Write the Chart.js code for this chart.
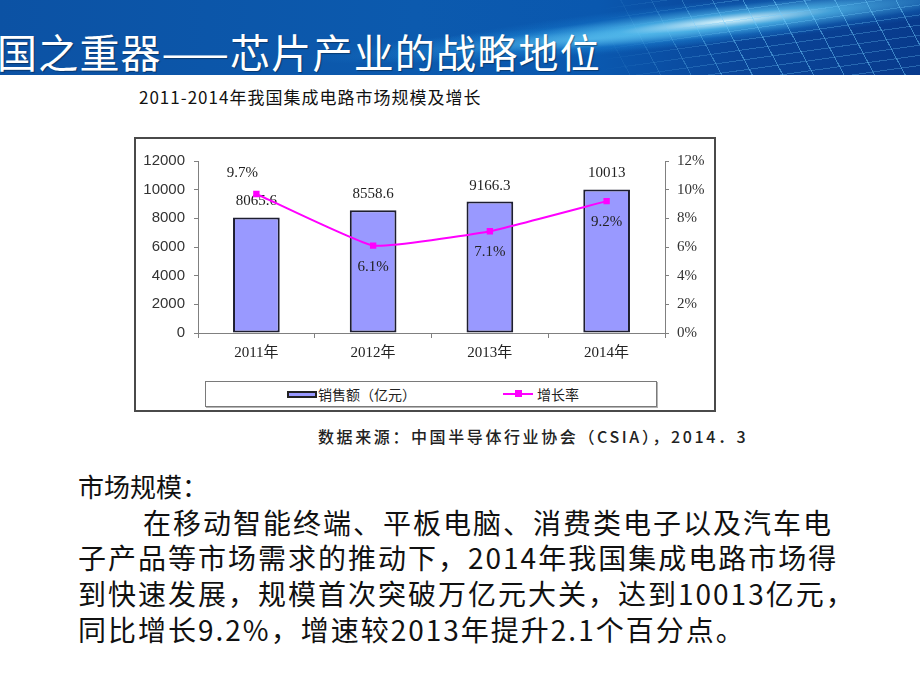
<!DOCTYPE html>
<html>
<head>
<meta charset="utf-8">
<script src="https://cdn.jsdelivr.net/npm/chart.js@4.4.0/dist/chart.umd.min.js"></script>
<style>
body { margin: 0; width: 920px; height: 690px; position: relative; overflow: hidden; background: #fff; font-family: "Noto Sans CJK SC", sans-serif; color: #111; }
#banner { position: absolute; left: 0; top: 0; width: 920px; height: 75px; overflow: hidden;
  background: linear-gradient(to right, #0c52a4 0%, #0c5aae 45%, #0a58af 65%, #0a4599 80%, #083a8c 100%); }
#ray1 { position: absolute; left: 380px; top: 6px; width: 560px; height: 44px; transform: rotate(-6deg);
  background: radial-gradient(ellipse at 62% 50%, rgba(225,250,255,0.95) 0%, rgba(90,200,245,0.7) 22%, rgba(30,140,220,0.25) 50%, rgba(10,90,180,0) 72%); }
#ray2 { position: absolute; left: 300px; top: 26px; width: 520px; height: 30px; transform: rotate(-4deg);
  background: radial-gradient(ellipse at 55% 50%, rgba(120,215,250,0.55) 0%, rgba(40,150,225,0.25) 40%, rgba(10,90,180,0) 70%); }
#grid { position: absolute; left: 600px; top: 0; width: 320px; height: 75px;
  background:
    repeating-linear-gradient(62deg, rgba(0,0,0,0) 0 26px, rgba(110,200,250,0.5) 26px 27px),
    repeating-linear-gradient(-8deg, rgba(0,0,0,0) 0 9px, rgba(110,200,250,0.3) 9px 10px);
  -webkit-mask-image: linear-gradient(to right, rgba(0,0,0,0) 0%, rgba(0,0,0,1) 45%); }
#banner h1 { position: absolute; left: -3px; top: 31px; margin: 0; font-size: 40px; line-height: 40px; font-weight: 400; color: #fff; white-space: nowrap; letter-spacing: 1.2px; text-shadow: 1px 1px 1px rgba(0,0,0,0.35); }
#ctitle { position: absolute; left: 139px; top: 87px; font-size: 17px; line-height: 19px; font-weight: 400; letter-spacing: 1px; color: #111; white-space: nowrap; }
#box { position: absolute; left: 134px; top: 137px; width: 582px; height: 275px; box-sizing: border-box; border: 2px solid #4a4a4a; }
#wrap { position: absolute; left: 136px; top: 139px; width: 578px; height: 231px; }
#legend { position: absolute; left: 205px; top: 381px; width: 452px; height: 26px; box-sizing: border-box; border: 1px solid #7a7a7a; box-shadow: 1px 1px 0 #b5b5b5; }
.lg { position: absolute; font-size: 14px; line-height: 16px; color: #222; white-space: nowrap; }
#swBar { position: absolute; left: 287px; top: 391px; width: 30px; height: 7px; box-sizing: border-box; border: 2px solid #222; background: #9999ff; }
#swLine { position: absolute; left: 503px; top: 393px; width: 30px; height: 2px; background: #ff00ff; }
#swDot { position: absolute; left: 515px; top: 390px; width: 7px; height: 7px; background: #ff00ff; }
#source { position: absolute; left: 318px; top: 427px; font-size: 16px; line-height: 18px; font-weight: 500; letter-spacing: 2.6px; color: #222; white-space: nowrap; }
.para { position: absolute; white-space: nowrap; color: #111; }
.big { font-size: 28px; line-height: 28px; letter-spacing: 2px; }
</style>
</head>
<body>
<div id="banner">
  <div id="ray2"></div>
  <div id="ray1"></div>
  <div id="grid"></div>
  <h1>国之重器——芯片产业的战略地位</h1>
</div>

<div id="ctitle">2011-2014年我国集成电路市场规模及增长</div>
<div id="box"></div>
<div id="wrap"><canvas id="myChart"></canvas></div>

<div id="legend"></div>
<div id="swBar"></div>
<div class="lg" style="left:318px; top:386px;">销售额（亿元）</div>
<div id="swLine"></div>
<div id="swDot"></div>
<div class="lg" style="left:537px; top:386px;">增长率</div>

<div id="source">数据来源：中国半导体行业协会（CSIA），2014．3</div>

<div class="para" style="left:78px; top:473px; font-size:26px; line-height:26px;">市场规模：</div>
<div class="para big" style="left:143px; top:508px;">在移动智能终端、平板电脑、消费类电子以及汽车电</div>
<div class="para big" style="left:78px; top:543px;">子产品等市场需求的推动下，2014年我国集成电路市场得</div>
<div class="para big" style="left:78px; top:579px;">到快速发展，规模首次突破万亿元大关，达到10013亿元，</div>
<div class="para big" style="left:78px; top:615px;">同比增长9.2%，增速较2013年提升2.1个百分点。</div>

<script>
// chart data
var years = ['2011年', '2012年', '2013年', '2014年'];
var sales = [8065.6, 8558.6, 9166.3, 10013];
var growth = [9.7, 6.1, 7.1, 9.2];
var salesTicks = [0, 2000, 4000, 6000, 8000, 10000, 12000];
var growthTicks = [0, 2, 4, 6, 8, 10, 12];
// where each growth label sits relative to its point
var growthLabelSide = ['above', 'below', 'below', 'below'];

var serif = '"Liberation Serif", "Noto Sans CJK SC", serif';

// value labels: bar values after the bars, rates after the line
var valueLabels = {
    id: 'valueLabels',
    afterDatasetDraw: function (chart, args) {
        var ctx = chart.ctx;
        ctx.save();
        ctx.font = '15px ' + serif;
        ctx.fillStyle = '#222';
        ctx.textAlign = 'center';
        ctx.textBaseline = 'middle';
        if (args.index === 0) {
            args.meta.data.forEach(function (bar, i) {
                ctx.fillText(String(sales[i]), bar.x, bar.y - 16);
            });
        } else {
            args.meta.data.forEach(function (pt, i) {
                var up = growthLabelSide[i] === 'above';
                ctx.fillText(growth[i].toFixed(1) + '%', pt.x + (up ? -14 : 0), pt.y + (up ? -21 : 21));
            });
        }
        ctx.restore();
    }
};

var ctx = document.getElementById('myChart').getContext('2d');
var chart = new Chart(ctx, {
    type: 'bar',
    data: {
        labels: years,
        datasets: [
            {
                label: '销售额（亿元）',
                data: sales,
                yAxisID: 'y',
                backgroundColor: '#9999ff',
                borderColor: '#1e1e30',
                borderWidth: 2,
                borderSkipped: false,
                barPercentage: 0.4,
                categoryPercentage: 1,
                order: 2
            },
            {
                type: 'line',
                label: '增长率',
                data: growth,
                yAxisID: 'y1',
                borderColor: '#ff00ff',
                borderWidth: 2,
                backgroundColor: '#ff00ff',
                pointStyle: 'rect',
                pointRadius: 4.5,
                pointBorderWidth: 0,
                pointBackgroundColor: '#ff00ff',
                tension: 0.12,
                order: 1
            }
        ]
    },
    options: {
        responsive: true,
        maintainAspectRatio: false,
        animation: false,
        layout: { padding: { top: 22, left: 0, right: 0, bottom: 0 } },
        plugins: { legend: { display: false }, tooltip: { enabled: false } },
        scales: {
            x: {
                grid: { drawOnChartArea: false, offset: true, tickLength: 5, color: '#808080' },
                border: { color: '#808080' },
                ticks: { font: { family: serif, size: 15 }, color: '#222', padding: 6 },
                afterFit: function (s) { s.height = 37; }
            },
            y: {
                position: 'left',
                min: salesTicks[0],
                max: salesTicks[salesTicks.length - 1],
                grid: { drawOnChartArea: false, tickLength: 4, color: '#808080' },
                border: { color: '#808080' },
                ticks: {
                    font: { family: '"Liberation Sans", Arial, sans-serif', size: 15 },
                    color: '#333',
                    padding: 9,
                    callback: function (v) { return String(v); }
                },
                afterBuildTicks: function (s) { s.ticks = salesTicks.map(function (v) { return { value: v }; }); },
                afterFit: function (s) { s.width = 62; }
            },
            y1: {
                position: 'right',
                min: growthTicks[0],
                max: growthTicks[growthTicks.length - 1],
                grid: { drawOnChartArea: false, tickLength: 4, color: '#808080' },
                border: { color: '#808080' },
                ticks: {
                    font: { family: serif, size: 15 },
                    color: '#333',
                    padding: 8,
                    callback: function (v) { return v + '%'; }
                },
                afterBuildTicks: function (s) { s.ticks = growthTicks.map(function (v) { return { value: v }; }); },
                afterFit: function (s) { s.width = 49; }
            }
        }
    },
    plugins: [valueLabels]
});
</script>
</body>
</html>
